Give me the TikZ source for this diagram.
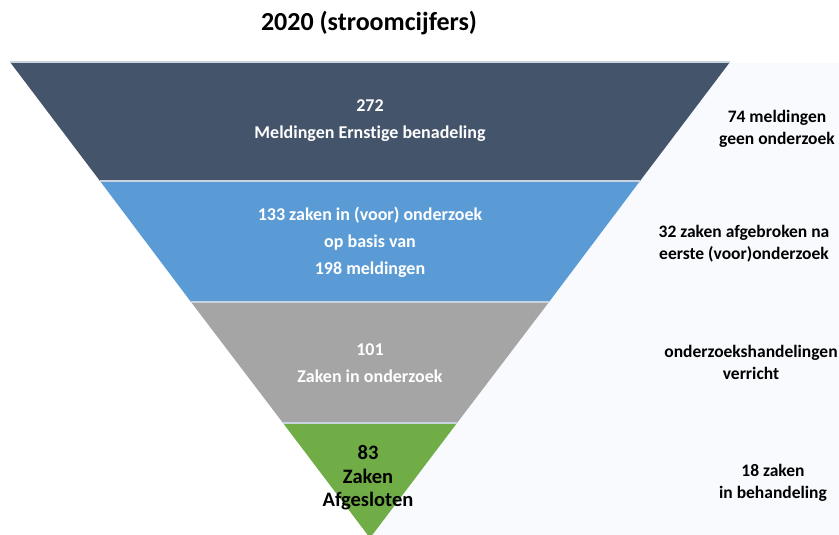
\documentclass[tikz,border=0pt]{standalone}
\usepackage{fontspec}
\setmainfont{Carlito}[Ligatures=NoCommon]
\definecolor{cdark}{HTML}{44546A}
\definecolor{cblue}{HTML}{5B9BD5}
\definecolor{cgray}{HTML}{A5A5A5}
\definecolor{cgreen}{HTML}{70AD47}
\definecolor{cbg}{HTML}{F8FAFE}
\definecolor{csep}{HTML}{C9D3DF}
\begin{document}
\begin{tikzpicture}[x=1pt,y=-1pt,
  wlab/.style={text=white,font=\bfseries\fontsize{18}{27}\selectfont,align=center,inner sep=0pt},
  glab/.style={text=black,font=\bfseries\fontsize{20.5}{23.5}\selectfont,align=center,inner sep=0pt},
  rlab/.style={text=black,font=\bfseries\fontsize{17.5}{22}\selectfont,align=center,inner sep=0pt},
  sep/.style={draw=csep,line width=1.2pt}]
\useasboundingbox (0,0) rectangle (839,535);
\fill[white] (0,0) rectangle (839,535);
\fill[cbg] (370,63) rectangle (839,535);
% funnel bands
\coordinate (TL) at (10,62);
\coordinate (TR) at (730,62);
\coordinate (A1) at (100,181);
\coordinate (B1) at (640,181);
\coordinate (A2) at (191,302);
\coordinate (B2) at (549,302);
\coordinate (A3) at (283,423);
\coordinate (B3) at (457,423);
\coordinate (TIP) at (370,538);
\fill[cdark] (TL) -- (TR) -- (B1) -- (A1) -- cycle;
\fill[cblue] (A1) -- (B1) -- (B2) -- (A2) -- cycle;
\fill[cgray] (A2) -- (B2) -- (B3) -- (A3) -- cycle;
\fill[cgreen] (A3) -- (B3) -- (TIP) -- cycle;
\draw[sep] (TL) -- (TR);
\draw[sep] (A1) -- (B1);
\draw[sep] (A2) -- (B2);
\draw[sep] (A3) -- (B3);
% title
\node[font=\bfseries\fontsize{26}{30}\selectfont,inner sep=0pt] (title) at (369,23) {2020 (stroomcijfers)};
% band labels
\node[wlab] (l1) at (370,121) {272\\Meldingen Ernstige benadeling};
\node[wlab] (l2) at (370,242) {133 zaken in (voor) onderzoek\\op basis van\\198 meldingen};
\node[wlab] (l3) at (370,363) {101\\Zaken in onderzoek};
\node[glab] (l4) at (368,478) {83\\Zaken\\Afgesloten};
% right labels
\node[rlab] (r1) at (777,129) {74 meldingen\\geen onderzoek};
\node[rlab] (r2) at (744,244) {32 zaken afgebroken na\\eerste (voor)onderzoek};
\node[rlab] (r3) at (751,362) {onderzoekshandelingen\\verricht};
\node[rlab] (r4) at (773,483) {18 zaken\\in behandeling};
\end{tikzpicture}
\end{document}
